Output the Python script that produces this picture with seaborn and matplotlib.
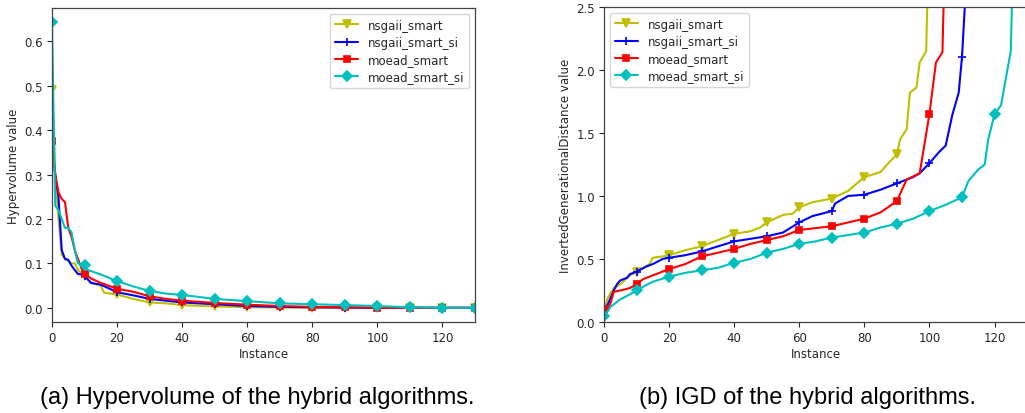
import numpy as np
import pandas as pd
import seaborn as sns
import matplotlib
matplotlib.use("Agg")
import matplotlib.pyplot as plt

# ---------------- data ----------------
series_names = ["nsgaii_smart", "nsgaii_smart_si", "moead_smart", "moead_smart_si"]

# Hypervolume (left)
hv_x_nsgaii = [0, 1, 2, 3, 4, 5, 6, 7, 8, 9, 10, 12, 14, 15, 16, 18, 20, 25, 30, 35, 40, 50, 60, 70, 80, 90, 100, 110, 120, 130]
hv_nsgaii = [0.49, 0.30, 0.20, 0.12, 0.11, 0.105, 0.10, 0.10, 0.085, 0.078, 0.072, 0.056, 0.052, 0.05, 0.034, 0.032, 0.03, 0.02, 0.012, 0.01, 0.006, 0.003, 0.0015, 0.0008, 0.0004, 0.0002, 0.0, 0.0, 0.0, 0.0]

hv_x_nsgaii_si = [0, 1, 2, 3, 4, 5, 6, 7, 8, 9, 10, 12, 15, 18, 20, 25, 30, 35, 40, 50, 60, 70, 80, 90, 100, 110, 120, 130]
hv_nsgaii_si = [0.37, 0.30, 0.25, 0.13, 0.11, 0.108, 0.095, 0.085, 0.076, 0.075, 0.072, 0.056, 0.052, 0.042, 0.035, 0.028, 0.02, 0.016, 0.012, 0.008, 0.004, 0.002, 0.001, 0.0005, 0.0, 0.0, 0.0, 0.0]

hv_x_moead = [0, 1, 2, 3, 4, 5, 6, 7, 8, 9, 10, 12, 15, 18, 20, 25, 30, 35, 40, 50, 60, 70, 80, 90, 100, 110, 120, 130]
hv_moead = [0.375, 0.30, 0.26, 0.245, 0.238, 0.18, 0.16, 0.13, 0.11, 0.09, 0.077, 0.066, 0.056, 0.048, 0.043, 0.036, 0.026, 0.02, 0.016, 0.011, 0.007, 0.004, 0.002, 0.001, 0.0, 0.0, 0.0, 0.0]

hv_x_moead_si = [0, 1, 2, 3, 4, 5, 6, 7, 8, 9, 10, 11, 13, 15, 18, 20, 25, 30, 35, 40, 50, 60, 70, 80, 90, 100, 110, 120, 130]
hv_moead_si = [0.643, 0.23, 0.22, 0.20, 0.18, 0.18, 0.17, 0.13, 0.10, 0.098, 0.096, 0.085, 0.08, 0.075, 0.066, 0.06, 0.048, 0.038, 0.032, 0.029, 0.02, 0.015, 0.01, 0.008, 0.006, 0.004, 0.001, 0.0, 0.0]

# IGD (right)
igd_x_nsgaii = [0, 1, 2, 3, 5, 8, 10, 12, 14, 15, 18, 20, 25, 30, 35, 40, 45, 48, 50, 55, 58, 60, 64, 70, 75, 80, 85, 87, 90, 91, 93, 94, 96, 97, 99, 100]
igd_nsgaii = [0.08, 0.18, 0.23, 0.27, 0.30, 0.37, 0.40, 0.43, 0.46, 0.51, 0.52, 0.53, 0.57, 0.60, 0.65, 0.70, 0.72, 0.75, 0.79, 0.85, 0.86, 0.91, 0.95, 0.98, 1.04, 1.15, 1.19, 1.25, 1.33, 1.45, 1.53, 1.82, 1.86, 2.06, 2.15, 3.2]

igd_x_nsgaii_si = [0, 1, 3, 4, 5, 7, 8, 10, 13, 15, 18, 20, 25, 30, 35, 40, 45, 50, 55, 60, 64, 70, 71, 75, 80, 85, 90, 95, 97, 100, 103, 105, 107, 109, 110, 111, 112]
igd_nsgaii_si = [0.10, 0.13, 0.25, 0.30, 0.33, 0.35, 0.38, 0.40, 0.44, 0.46, 0.50, 0.51, 0.53, 0.56, 0.60, 0.64, 0.66, 0.68, 0.71, 0.79, 0.84, 0.88, 0.94, 1.00, 1.01, 1.05, 1.10, 1.15, 1.18, 1.26, 1.35, 1.40, 1.64, 1.82, 2.10, 2.56, 3.2]

igd_x_moead = [0, 1, 2, 3, 5, 8, 10, 12, 15, 18, 20, 25, 30, 35, 40, 45, 50, 55, 60, 70, 80, 85, 90, 93, 97, 100, 102, 104, 105]
igd_moead = [0.10, 0.09, 0.15, 0.24, 0.25, 0.27, 0.30, 0.34, 0.37, 0.40, 0.42, 0.46, 0.52, 0.55, 0.58, 0.62, 0.65, 0.68, 0.73, 0.76, 0.82, 0.87, 0.96, 1.13, 1.18, 1.65, 2.06, 2.14, 3.2]

igd_x_moead_si = [0, 1, 2, 5, 8, 10, 12, 15, 20, 25, 30, 35, 40, 45, 50, 55, 60, 65, 70, 75, 80, 85, 90, 95, 100, 105, 110, 112, 115, 117, 118, 120, 122, 125, 126]
igd_moead_si = [0.05, 0.08, 0.12, 0.18, 0.22, 0.25, 0.28, 0.32, 0.36, 0.39, 0.41, 0.43, 0.47, 0.50, 0.55, 0.58, 0.62, 0.64, 0.67, 0.69, 0.71, 0.75, 0.78, 0.82, 0.88, 0.93, 0.99, 1.12, 1.21, 1.25, 1.44, 1.65, 1.72, 2.15, 3.2]

x_ticks = [0, 20, 40, 60, 80, 100, 120]
hv_yticks = [0.0, 0.1, 0.2, 0.3, 0.4, 0.5, 0.6]
igd_yticks = [0.0, 0.5, 1.0, 1.5, 2.0, 2.5]
caption_a = "(a) Hypervolume of the hybrid algorithms."
caption_b = "(b) IGD of the hybrid algorithms."

# ---------------- style ----------------
sns.set_style("ticks")
plt.rcParams["font.family"] = ["DejaVu Sans"]
plt.rcParams["axes.edgecolor"] = "#444444"

colors = ["#bfbf00", "#0000ff", "#ff0000", "#00bfbf"]
markers = ["v", "+", "s", "D"]
msizes = [5.5, 6, 5, 5.5]

fig = plt.figure(figsize=(10.25, 4.14), dpi=100)
ax1 = fig.add_axes([0.0507, 0.2198, 0.4127, 0.7585])
ax2 = fig.add_axes([0.5893, 0.2198, 0.4127, 0.7610])


def draw(ax, xs_list, ys_list):
    for name, xs, ys, c, m, ms in zip(series_names, xs_list, ys_list, colors, markers, msizes):
        idx = [i for i, v in enumerate(xs) if v % 10 == 0]
        df = pd.DataFrame({"x": xs, "y": ys})
        sns.lineplot(data=df, x="x", y="y", ax=ax, color=c, marker=m, markersize=ms,
                     markevery=idx, linewidth=1.5, label=name, markeredgewidth=1.2,
                     markeredgecolor=c, sort=False)


draw(ax1,
     [hv_x_nsgaii, hv_x_nsgaii_si, hv_x_moead, hv_x_moead_si],
     [hv_nsgaii, hv_nsgaii_si, hv_moead, hv_moead_si])
draw(ax2,
     [igd_x_nsgaii, igd_x_nsgaii_si, igd_x_moead, igd_x_moead_si],
     [igd_nsgaii, igd_nsgaii_si, igd_moead, igd_moead_si])

for ax in (ax1, ax2):
    ax.set_xlim(0, 130)
    ax.set_xticks(x_ticks)
    ax.set_xlabel("Instance", fontsize=8.5, labelpad=2)
    ax.tick_params(labelsize=8.5, length=3.5, width=0.8, pad=3)
    for s in ax.spines.values():
        s.set_linewidth(0.9)

ax1.set_ylim(-0.032, 0.675)
ax1.set_yticks(hv_yticks)
ax1.set_yticklabels([f"{v:.1f}" for v in hv_yticks])
ax1.set_ylabel("Hypervolume value", fontsize=8.5, labelpad=3)
ax1.legend(loc="upper right", fontsize=8.5, frameon=True, fancybox=True,
           borderpad=0.4, labelspacing=0.35, handlelength=2.0)

ax2.set_ylim(0, 2.5)
ax2.set_yticks(igd_yticks)
ax2.set_yticklabels([f"{v:.1f}" for v in igd_yticks])
ax2.set_ylabel("InvertedGenerationalDistance value", fontsize=8.5, labelpad=3)
ax2.legend(loc="upper left", fontsize=8.5, frameon=True, fancybox=True,
           borderpad=0.4, labelspacing=0.35, handlelength=2.0)

fig.text(0.251, 0.039, caption_a, ha="center", va="center", fontsize=17,
         family=["Liberation Sans", "DejaVu Sans"], color="black")
fig.text(0.788, 0.039, caption_b, ha="center", va="center", fontsize=17,
         family=["Liberation Sans", "DejaVu Sans"], color="black")

fig.savefig("out.png", dpi=100)
